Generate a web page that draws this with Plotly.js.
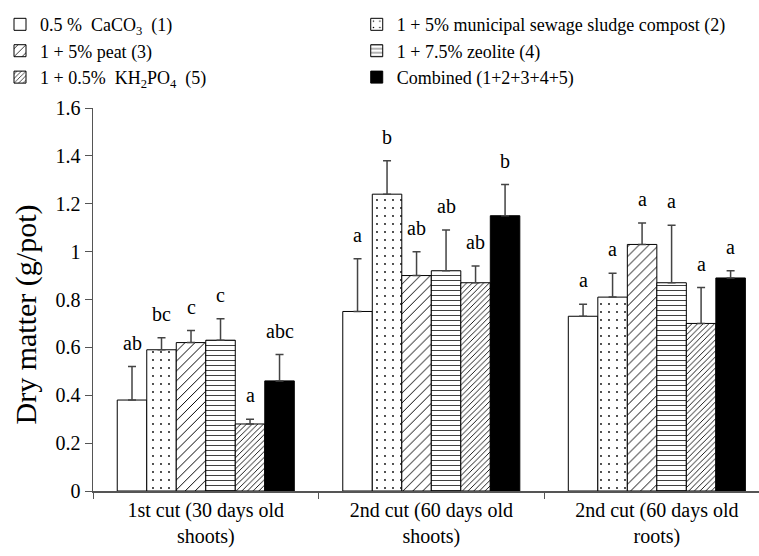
<!DOCTYPE html>
<html>
<head>
<meta charset="utf-8">
<script src="https://cdn.plot.ly/plotly-3.0.1.min.js"></script>
<style>html,body{margin:0;padding:0;background:#fff;}#chart{width:759px;height:556px;}</style>
</head>
<body>
<div id="chart"></div>
<script>
var categories = ["1st cut (30 days old<br>shoots)", "2nd cut (60 days old<br>shoots)", "2nd cut (60 days old<br>roots)"];
var seriesNames = ["0.5 %  CaCO<sub>3</sub>  (1)", "1 + 5% municipal sewage sludge compost (2)", "1 + 5% peat (3)", "1 + 7.5% zeolite (4)", "1 + 0.5%  KH<sub>2</sub>PO<sub>4</sub>  (5)", "Combined (1+2+3+4+5)"];
var yTitle = "Dry matter (g/pot)";
var s1 = [0.38, 0.75, 0.73];
var s2 = [0.59, 1.24, 0.81];
var s3 = [0.62, 0.90, 1.03];
var s4 = [0.63, 0.92, 0.87];
var s5 = [0.28, 0.87, 0.70];
var s6 = [0.46, 1.15, 0.89];
var e1 = [0.14, 0.22, 0.05];
var e2 = [0.05, 0.14, 0.10];
var e3 = [0.05, 0.10, 0.09];
var e4 = [0.09, 0.17, 0.24];
var e5 = [0.02, 0.07, 0.15];
var e6 = [0.11, 0.13, 0.03];
var l1 = ["ab", "a", "a"];
var l2 = ["bc", "b", "a"];
var l3 = ["c", "ab", "a"];
var l4 = ["c", "ab", "a"];
var l5 = ["a", "ab", "a"];
var l6 = ["abc", "b", "a"];

var values = [s1, s2, s3, s4, s5, s6];
var errors = [e1, e2, e3, e4, e5, e6];
var letters = [l1, l2, l3, l4, l5, l6];
var legendIds = ["legend", "legend2", "legend", "legend2", "legend", "legend2"];
var patterns = [
  {shape: ""},
  {shape: ".", size: 8, solidity: 0.04, fgcolor: "#000", bgcolor: "#fff"},
  {shape: "/", size: 7, solidity: 0.14, fgcolor: "#000", bgcolor: "#fff"},
  {shape: "-", size: 5, solidity: 0.15, fgcolor: "#000", bgcolor: "#fff"},
  {shape: "/", size: 4, solidity: 0.22, fgcolor: "#000", bgcolor: "#fff"},
  {shape: ""}
];
var fills = ["#fff", "#fff", "#fff", "#fff", "#fff", "#000"];
var FONT = "Liberation Serif, Times New Roman, serif";
var bargap = 0.215;
var n = values.length;

var traces = values.map(function (v, i) {
  return {
    type: "bar",
    name: seriesNames[i],
    legend: legendIds[i],
    x: categories,
    y: v,
    marker: {color: fills[i], line: {color: "#000", width: 1}, pattern: patterns[i]},
    error_y: {type: "data", array: errors[i], symmetric: false, arrayminus: [0, 0, 0], color: "#444", thickness: 1.5, width: 4}
  };
});

var annotations = [];
var bw = (1 - bargap) / n;
values.forEach(function (v, i) {
  v.forEach(function (val, j) {
    annotations.push({
      x: j + (i - (n - 1) / 2) * bw,
      y: val + errors[i][j],
      xref: "x", yref: "y",
      text: letters[i][j],
      showarrow: false,
      yanchor: "bottom",
      yshift: 11,
      font: {family: FONT, size: 20, color: "#000"}
    });
  });
});
annotations.push({
  text: yTitle, xref: "paper", yref: "paper", x: -0.1, y: 0.462,
  xanchor: "center", yanchor: "middle", textangle: -90, showarrow: false,
  font: {family: FONT, size: 30, color: "#000"}
});

var legendBase = {
  orientation: "h", xref: "container", yref: "container",
  xanchor: "left", y: 0.989, yanchor: "top",
  font: {family: FONT, size: 18, color: "#000"},
  traceorder: "normal", bgcolor: "rgba(0,0,0,0)", itemclick: false
};

var layout = {
  width: 759, height: 556,
  margin: {l: 93, r: 0, t: 108, b: 65},
  paper_bgcolor: "#fff", plot_bgcolor: "#fff",
  barmode: "group", bargap: bargap, bargroupgap: 0,
  font: {family: FONT, color: "#000"},
  showlegend: true,
  legend: Object.assign({}, legendBase, {x: 0, entrywidth: 340, entrywidthmode: "pixels"}),
  legend2: Object.assign({}, legendBase, {x: 0.470}),
  xaxis: {
    type: "category", range: [-0.5, 2.453], showgrid: false, zeroline: false,
    showline: true, linecolor: "#555", linewidth: 1.5,
    ticks: "outside", tickson: "boundaries", ticklen: 6, tickcolor: "#555",
    tickfont: {family: FONT, size: 20, color: "#000"}, fixedrange: true
  },
  yaxis: {
    range: [0, 1.6], dtick: 0.2, showgrid: false, zeroline: false,
    showline: true, linecolor: "#555", linewidth: 1.5,
    ticks: "outside", ticklen: 7, tickcolor: "#555",
    tickfont: {family: FONT, size: 20, color: "#000"},
    fixedrange: true
  },
  annotations: annotations
};

Plotly.newPlot("chart", traces, layout, {displayModeBar: false, staticPlot: true});
</script>
</body>
</html>
